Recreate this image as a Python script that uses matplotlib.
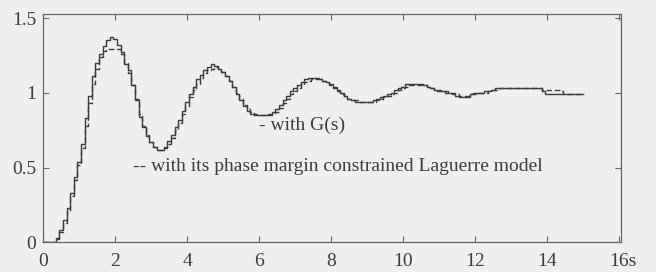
import numpy as np
import matplotlib.transforms as mtransforms
from matplotlib import pyplot as plt

t = np.round(np.arange(0, 15.01, 0.1), 1)

g_plant = [
    0, 0, 0, 0, 0.03, 0.08, 0.15, 0.23, 0.33, 0.44,
    0.54, 0.66, 0.83, 0.98, 1.11, 1.20, 1.26, 1.31, 1.35, 1.37,
    1.36, 1.32, 1.27, 1.19, 1.15, 1.05, 0.95, 0.84, 0.77, 0.71,
    0.67, 0.64, 0.62, 0.62, 0.64, 0.68, 0.72, 0.77, 0.82, 0.88,
    0.94, 0.99, 1.04, 1.09, 1.12, 1.15, 1.17, 1.19, 1.18, 1.16,
    1.14, 1.11, 1.08, 1.04, 0.99, 0.95, 0.91, 0.88, 0.86, 0.85,
    0.85, 0.85, 0.85, 0.86, 0.87, 0.89, 0.92, 0.95, 0.98, 1.01,
    1.03, 1.05, 1.07, 1.09, 1.10, 1.10, 1.10, 1.09, 1.08, 1.07,
    1.06, 1.04, 1.02, 1.00, 0.98, 0.96, 0.95, 0.94, 0.94, 0.94,
    0.94, 0.94, 0.95, 0.96, 0.97, 0.98, 0.99, 1.00, 1.02, 1.03,
    1.04, 1.06, 1.06, 1.06, 1.06, 1.06, 1.05, 1.04, 1.03, 1.02,
    1.02, 1.01, 1.01, 1.00, 1.00, 0.98, 0.975, 0.975, 0.975, 0.99,
    1.00, 1.00, 1.00, 1.01, 1.01, 1.02, 1.03, 1.03, 1.03, 1.03,
    1.03, 1.03, 1.03, 1.03, 1.03, 1.03, 1.03, 1.03, 1.03, 1.01,
    0.995, 0.995, 0.995, 0.995, 0.995, 0.995, 0.995, 0.995, 0.995, 0.995,
    0.995,
]

laguerre = [
    0, 0, 0, 0, 0.02, 0.07, 0.13, 0.21, 0.31, 0.42,
    0.52, 0.63, 0.78, 0.93, 1.06, 1.16, 1.24, 1.28, 1.29, 1.29,
    1.29, 1.29, 1.26, 1.20, 1.13, 1.05, 0.96, 0.86, 0.78, 0.72,
    0.67, 0.64, 0.62, 0.62, 0.63, 0.66, 0.70, 0.75, 0.80, 0.86,
    0.91, 0.97, 1.02, 1.06, 1.10, 1.13, 1.15, 1.16, 1.17, 1.16,
    1.14, 1.11, 1.08, 1.04, 1.00, 0.96, 0.92, 0.89, 0.87, 0.86,
    0.85, 0.85, 0.85, 0.85, 0.86, 0.87, 0.90, 0.93, 0.96, 0.99,
    1.01, 1.03, 1.05, 1.07, 1.08, 1.09, 1.09, 1.09, 1.08, 1.07,
    1.05, 1.03, 1.01, 0.99, 0.98, 0.96, 0.95, 0.95, 0.94, 0.94,
    0.94, 0.94, 0.94, 0.95, 0.96, 0.97, 0.98, 0.99, 1.00, 1.02,
    1.03, 1.04, 1.05, 1.05, 1.05, 1.05, 1.05, 1.04, 1.03, 1.02,
    1.01, 1.01, 1.00, 1.00, 0.99, 0.99, 0.98, 0.98, 0.98, 0.99,
    0.99, 1.00, 1.00, 1.00, 1.01, 1.02, 1.02, 1.03, 1.03, 1.03,
    1.03, 1.03, 1.03, 1.03, 1.03, 1.03, 1.03, 1.03, 1.03, 1.02,
    1.02, 1.02, 1.02, 1.02, 1.01, 0.995, 0.995, 0.995, 0.995, 0.995,
    0.995,
]

xticks = [0, 2, 4, 6, 8, 10, 12, 14, 16]
xticklabels = ['0', '2', '4', '6', '8', '10', '12', '14', '16s']
yticks = [0, 0.5, 1, 1.5]
yticklabels = ['0', '0.5', '1', '1.5']

plt.rcParams['font.family'] = ['Liberation Serif', 'DejaVu Serif']
bg = '#efefef'
ink = '#3c3c3c'

fig = plt.figure(figsize=(6.56, 2.72), dpi=100, facecolor=bg)
ax = fig.add_axes([0.066, 0.109, 0.8806, 0.8395], facecolor=bg)

ax.plot(t, g_plant, drawstyle='steps-mid', color=ink, lw=1.0)
ax.plot(t, laguerre, drawstyle='steps-mid', color=ink, lw=1.0,
        linestyle=(0, (4, 2)))

ax.text(6.0, 0.78, '- with G(s)', fontsize=14, color=ink, va='center')
ax.text(2.48, 0.506, '-- with its phase margin constrained Laguerre model',
        fontsize=14, color=ink, va='center')

ax.set_xlim(0, 16.05)
ax.set_ylim(0, 1.527)
ax.set_xticks(xticks)
ax.set_xticklabels(xticklabels)
ax.set_yticks(yticks)
ax.set_yticklabels(yticklabels)
ax.tick_params(direction='in', top=True, right=True, length=4, width=0.8,
               colors='#666666', labelcolor=ink, labelsize=14)
ax.tick_params(axis='x', pad=8)
ax.tick_params(axis='y', pad=5)
for s in ax.spines.values():
    s.set_color('#666666')
    s.set_linewidth(0.9)

# the unit "s" hangs to the right of the last number
last = ax.get_xticklabels()[-1]
last.set_horizontalalignment('left')
last.set_transform(last.get_transform() +
                   mtransforms.ScaledTranslation(-7 / 72, 0, fig.dpi_scale_trans))

fig.savefig('out.png', dpi=100, facecolor=bg)
